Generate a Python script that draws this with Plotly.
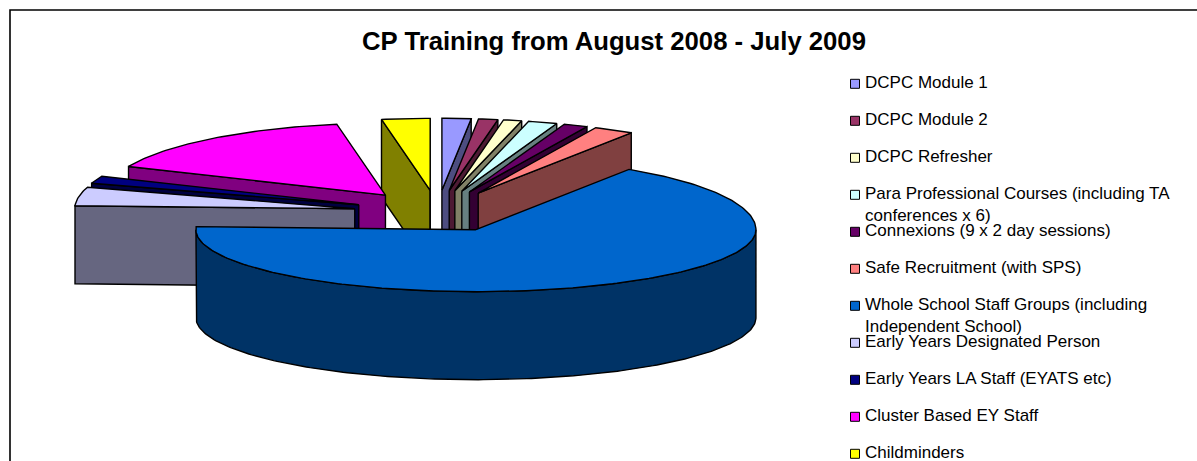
import math
import plotly.graph_objects as go

categories = ["DCPC Module 1", "DCPC Module 2", "DCPC Refresher",
              "Para Professional Courses (including TA<br>conferences x 6)",
              "Connexions (9 x 2 day sessions)", "Safe Recruitment (with SPS)",
              "Whole School Staff Groups (including<br>Independent School)",
              "Early Years Designated Person", "Early Years LA Staff (EYATS etc)",
              "Cluster Based EY Staff", "Childminders"]
values = [60, 40, 38, 60, 50, 83, 2390, 150, 60, 565, 100]
top_colors = ["#9999FF", "#993366", "#FFFFCC", "#CCFFFF", "#660066", "#FF8080",
              "#0066CC", "#CCCCFF", "#000080", "#FF00FF", "#FFFF00"]
side_colors = ["#4D4D80", "#4D1A33", "#808066", "#668080", "#330033", "#804040",
               "#003366", "#666680", "#000040", "#800080", "#808000"]

# Pie projection
CX, CY = 437.5, 212.6
RX, RY_BACK, RY_FRONT = 280, 72, 62
PULL_X, PULL_Y = 0.30, 0.31
DEPTH_BACK, DEPTH_FRONT = 78, 88
LINE = dict(color="#000000", width=1.4)


def rim_point(deg, cx, cy):
    t = math.radians(deg)
    c, s = math.cos(t), math.sin(t)
    ry = RY_BACK if c > 0 else RY_FRONT
    return cx + RX * s, cy - ry * c


def apex_point(deg):
    t = math.radians(deg)
    c, s = math.cos(t), math.sin(t)
    ry = RY_BACK if c > 0 else RY_FRONT
    return CX + RX * PULL_X * s, CY - ry * PULL_Y * c


def arc(a0, a1, cx, cy):
    n = max(2, int(abs(a1 - a0)) + 1)
    return [rim_point(a0 + (a1 - a0) * i / n, cx, cy) for i in range(n + 1)]


def polygon(points, fill, name):
    xs = [p[0] for p in points] + [points[0][0]]
    ys = [p[1] for p in points] + [points[0][1]]
    return go.Scatter(x=xs, y=ys, mode="lines", fill="toself", fillcolor=fill,
                      line=LINE, name=name.replace("<br>", " "), hoverinfo="name",
                      showlegend=False)


def slice_traces(a0, a1, top, side, name):
    ax, ay = apex_point((a0 + a1) / 2)
    front = a0 < 270 and a1 > 90
    d = DEPTH_FRONT if front else DEPTH_BACK
    out = []
    # radial walls facing the viewer
    if math.sin(math.radians(a0)) < 0:
        p = rim_point(a0, ax, ay)
        out.append(polygon([(ax, ay), p, (p[0], p[1] + d), (ax, ay + d)], side, name))
    if math.sin(math.radians(a1)) > 0:
        p = rim_point(a1, ax, ay)
        out.append(polygon([(ax, ay), p, (p[0], p[1] + d), (ax, ay + d)], side, name))
    # outer wall on the front half
    lo, hi = max(a0, 90), min(a1, 270)
    if lo < hi:
        rim = arc(lo, hi, ax, ay)
        out.append(polygon(rim + [(x, y + d) for x, y in reversed(rim)], side, name))
    out.append(polygon([(ax, ay)] + arc(a0, a1, ax, ay), top, name))
    return out


total = sum(values)
angles = []
start = 0.0
for v in values:
    angles.append((start, start + 360 * v / total))
    start += 360 * v / total

# Painter's order: far right fan, then far left fan, then the big front slice
draw_order = [0, 1, 2, 3, 4, 5, 10, 9, 8, 7, 6]

fig = go.Figure()
for i in draw_order:
    for tr in slice_traces(angles[i][0], angles[i][1], top_colors[i], side_colors[i], categories[i]):
        fig.add_trace(tr)

# Legend column
ROW0, PITCH = 83.8, 37
SWATCH_X, TEXT_X = 855, 864
fig.add_trace(go.Scatter(
    x=[SWATCH_X] * len(categories),
    y=[ROW0 + PITCH * i for i in range(len(categories))],
    mode="markers", hoverinfo="skip", showlegend=False,
    marker=dict(symbol="square", size=9, color=top_colors,
                line=dict(color="#000000", width=1))))

annotations = [dict(x=TEXT_X, y=ROW0 + PITCH * i - 12.3, xref="x", yref="y", text=label,
                    showarrow=False, xanchor="left", yanchor="top", align="left",
                    borderpad=0, font=dict(family="Liberation Sans", size=17, color="#000000"))
               for i, label in enumerate(categories)]

fig.update_layout(
    width=1197, height=461, margin=dict(l=0, r=0, t=0, b=0, pad=0), autosize=False,
    paper_bgcolor="#FFFFFF", plot_bgcolor="#FFFFFF", showlegend=False,
    title=dict(text="CP Training from August 2008 - July 2009", x=614 / 1197, xanchor="center",
               xref="paper", y=1 - 41 / 461, yanchor="middle", yref="paper",
               font=dict(family="Liberation Sans", size=25.7, color="#000000", weight=700)),
    xaxis=dict(range=[0, 1197], visible=False, fixedrange=True),
    yaxis=dict(range=[461, 0], visible=False, fixedrange=True),
    annotations=annotations,
    shapes=[dict(type="rect", xref="x", yref="y", x0=10, y0=10, x1=1300, y1=600,
                 line=dict(color="#000000", width=1.6), layer="below")],
)
fig.write_html("out.html", config={"displayModeBar": False},
               post_script="document.body.style.margin='0';document.body.style.overflow='hidden';")
